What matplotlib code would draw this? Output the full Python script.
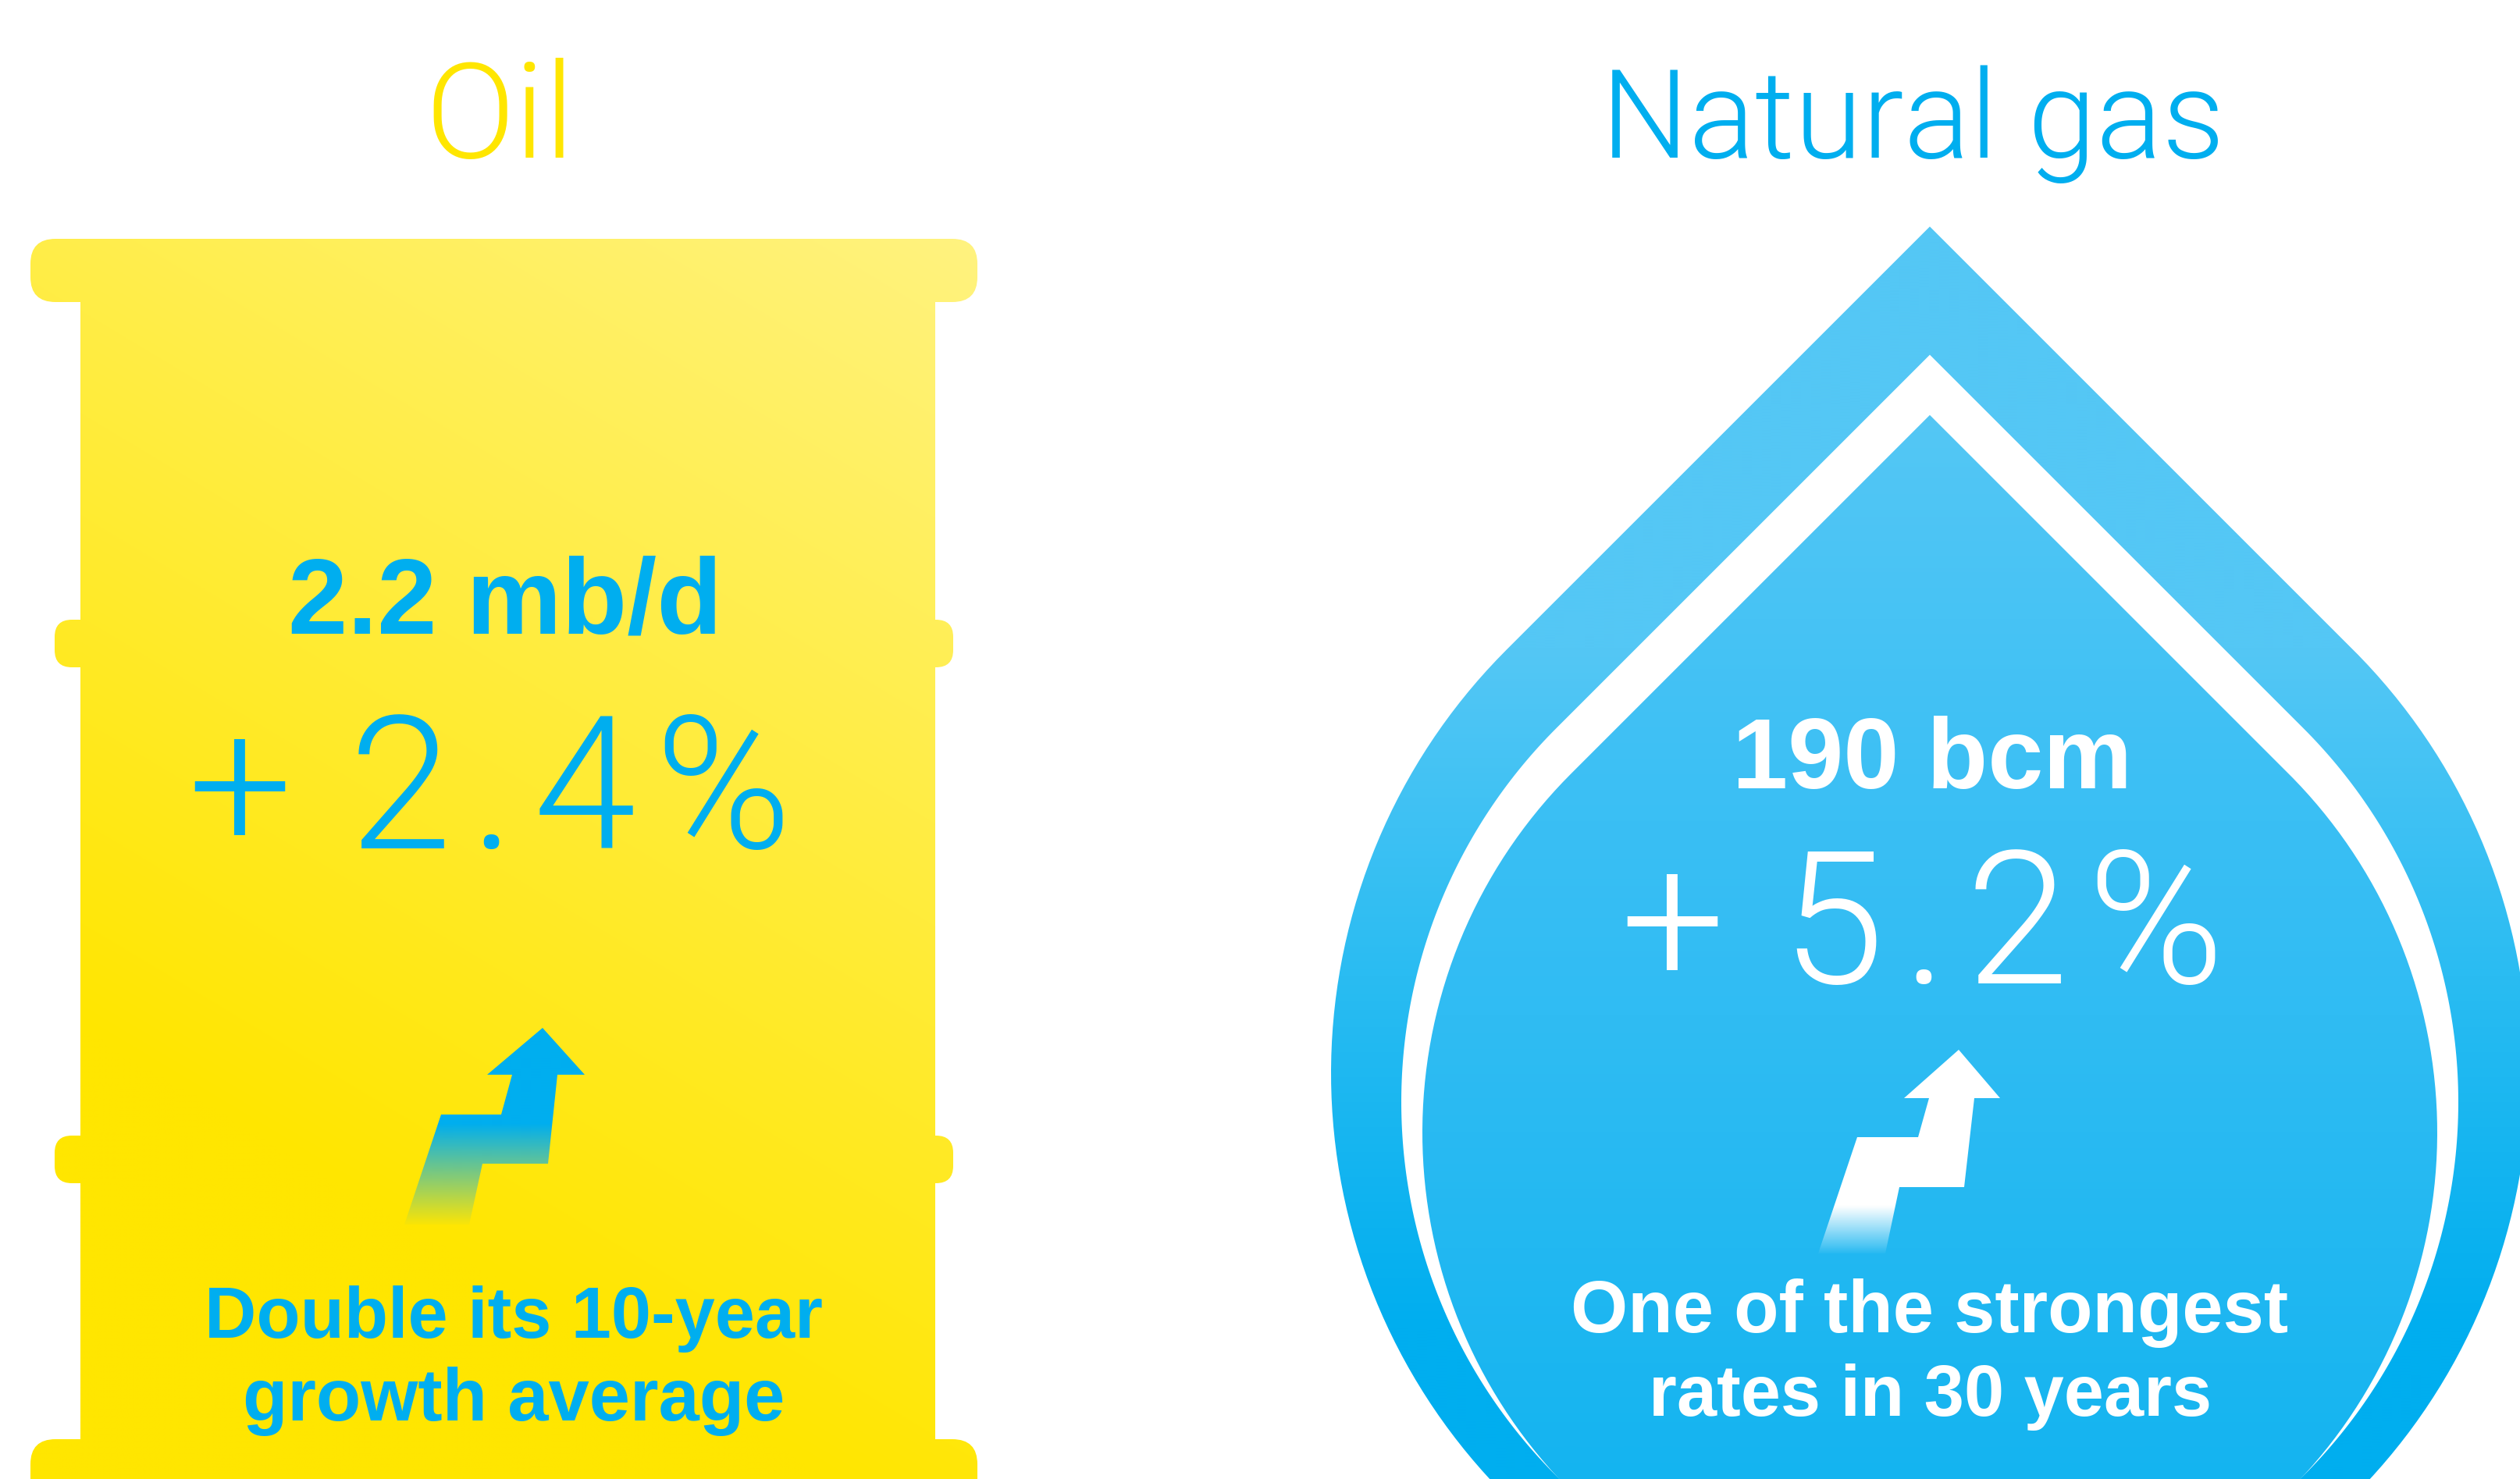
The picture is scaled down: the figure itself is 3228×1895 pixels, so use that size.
import numpy as np
import matplotlib
matplotlib.use("Agg")
import matplotlib.pyplot as plt
from matplotlib.patches import FancyBboxPatch, PathPatch, Polygon
from matplotlib.path import Path
from matplotlib.colors import to_rgb

W, H = 3228, 1895
BLUE = "#00AEEF"
YELLOW = "#FFE600"

titles = ["Oil", "Natural gas"]
oil_amount = "2.2 mb/d"
oil_growth = "+\u2009\u200a2\u200a.\u200a4\u200a%"
oil_notes = ["Double its 10-year", "growth average"]
gas_amount = "190 bcm"
gas_growth = "+\u2009\u200a5\u200a.\u200a2\u200a%"
gas_notes = ["One of the strongest", "rates in 30 years"]

LIGHT = dict(family=["Roboto", "DejaVu Sans"], fontweight=300)
BOLD = dict(family=["Liberation Sans", "DejaVu Sans"], fontweight="bold")


def pt(px):
    return px * 72 / 100


fig = plt.figure(figsize=(W / 100, H / 100), dpi=100, facecolor="white")
ax = fig.add_axes([0, 0, 1, 1])
ax.set_axis_off()


def gradient_image(rgba, clip):
    im = ax.imshow(rgba, extent=(0, W, H, 0), origin="upper", aspect="auto",
                   interpolation="bilinear", zorder=clip.get_zorder())
    im.set_clip_path(clip)
    return im


# ---- barrel ----
ys, xs = np.mgrid[0:H:8, 0:W:8]
sx, sy, ex, ey = 1250, 300, 500, 1550
dx, dy = ex - sx, ey - sy
t = np.clip(((xs - sx) * dx + (ys - sy) * dy) / (dx * dx + dy * dy), 0, 1)
barrel = np.ones(t.shape + (3,))
barrel[..., 1] = (243 + (230 - 243) * t) / 255
barrel[..., 2] = (128 * (1 - t)) / 255

barrel_parts = [
    (103, 306, 1095, 1700, 2),
    (39, 306, 1213, 81, 32),
    (70, 794, 1151, 61, 22),
    (70, 1455, 1151, 61, 22),
    (39, 1844, 1213, 120, 32),
]
for x, y, w, h, r in barrel_parts:
    p = FancyBboxPatch((x, y), w, h, boxstyle=f"round,pad=0,rounding_size={r}",
                       fc="none", ec="none", zorder=2)
    ax.add_patch(p)
    gradient_image(barrel, p)


# ---- teardrop ----
def drop_path(cx, cy, r):
    theta = np.radians(np.linspace(-45, 225, 400))
    # screen coordinates: y grows downward
    px = cx + r * np.cos(theta)
    py = cy - r * np.sin(theta) * -1
    apex = (cx, cy - r * np.sqrt(2))
    verts = np.vstack([[apex], np.column_stack([px, py]), [apex]])
    return Path(verts)


def vertical_gradient(stops):
    yy = np.arange(0, H, 4)
    pos = [s[0] for s in stops]
    arr = np.stack([np.interp(yy, pos, [s[1][i] for s in stops]) for i in range(3)], axis=-1) / 255
    return arr[:, None, :]


outer_stops = [(291, (84, 199, 245)), (830, (84, 199, 245)), (1250, (42, 188, 242)),
               (1700, (0, 174, 239)), (1895, (0, 174, 239))]
inner_stops = [(532, (84, 199, 245)), (1050, (58, 191, 244)), (1300, (48, 188, 243)),
               (1895, (20, 180, 240))]

outer = PathPatch(drop_path(2472, 1375, 767), fc="none", ec="none", zorder=3)
ax.add_patch(outer)
gradient_image(vertical_gradient(outer_stops), outer)
ax.add_patch(PathPatch(drop_path(2472, 1412, 677), fc="white", ec="none", zorder=4))
inner = PathPatch(drop_path(2472, 1451, 650), fc="none", ec="none", zorder=5)
ax.add_patch(inner)
gradient_image(vertical_gradient(inner_stops), inner)


# ---- arrows ----
def arrow(verts, color, fade_start, fade_end, floor=0.0):
    clip = Polygon(verts, closed=True, fc="none", ec="none", zorder=6)
    ax.add_patch(clip)
    yy = np.arange(0, H, 2)
    a = floor + (1 - floor) * np.clip((fade_end - yy) / (fade_end - fade_start), 0, 1)
    rgba = np.zeros((len(yy), 1, 4))
    rgba[..., :3] = to_rgb(color)
    rgba[..., 3] = a[:, None]
    gradient_image(rgba, clip)


oil_arrow = [(695, 1317), (749, 1377), (714, 1377), (702, 1491), (618, 1491), (601, 1569),
             (518, 1569), (565, 1428), (642, 1428), (656, 1377), (624, 1377)]
gas_arrow = [(2509, 1345), (2562, 1407), (2529, 1407), (2516, 1521), (2433, 1521), (2415, 1606),
             (2329, 1606), (2379, 1457), (2457, 1457), (2471, 1407), (2439, 1407)]
arrow(oil_arrow, BLUE, 1440, 1572)
arrow(gas_arrow, "white", 1545, 1608, floor=0.0)

# ---- text ----
def label(x, y, s, px, color, style):
    ax.text(x, y, s, fontsize=pt(px), color=color, ha="center", va="baseline", zorder=8, **style)


label(640, 202, titles[0], 170, YELLOW, LIGHT)
label(2450, 202, titles[1], 158, BLUE, LIGHT)

label(647, 811, oil_amount, 137, BLUE, BOLD)
label(628, 1087, oil_growth, 237, BLUE, LIGHT)
label(658, 1714, oil_notes[0], 92, BLUE, BOLD)
label(658, 1820, oil_notes[1], 94, BLUE, BOLD)

label(2475, 1010, gas_amount, 128, "white", BOLD)
label(2463, 1260, gas_growth, 237, "white", LIGHT)
label(2472, 1707, gas_notes[0], 94, "white", BOLD)
label(2473, 1814, gas_notes[1], 92, "white", BOLD)

ax.set_xlim(0, W)
ax.set_ylim(H, 0)
fig.savefig("out.png", dpi=100, facecolor="white")
